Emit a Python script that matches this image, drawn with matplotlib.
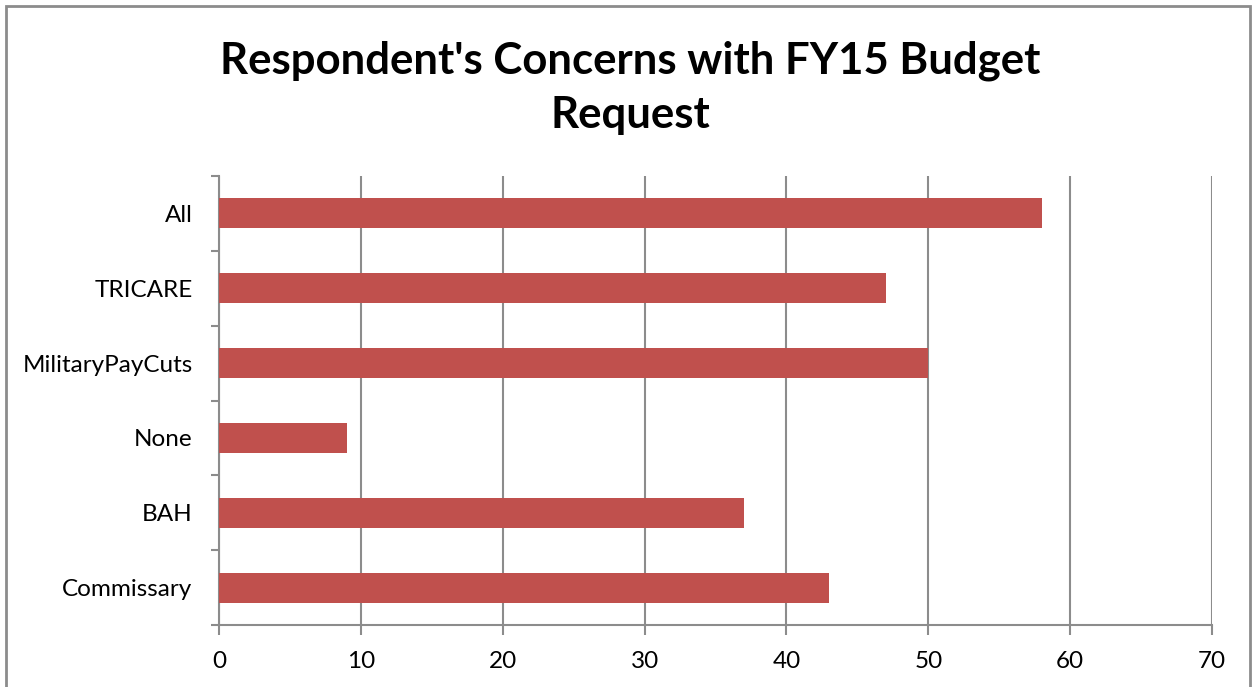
import matplotlib.pyplot as plt
from matplotlib.patches import Rectangle

# survey counts per concern, listed top to bottom
categories = ['All', 'TRICARE', 'MilitaryPayCuts', 'None', 'BAH', 'Commissary']
counts = [58, 47, 50, 9, 37, 43]
x_ticks = [0, 10, 20, 30, 40, 50, 60, 70]

plt.rcParams['font.family'] = ['Lato', 'DejaVu Sans']

fig = plt.figure(figsize=(12.53, 6.87), dpi=100)
ax = fig.add_axes([219 / 1253, 1 - 625 / 687, (1212 - 219) / 1253, (625 - 176) / 687])

# outer chart frame
fig.patches.append(Rectangle((6 / 1253, -0.01), 1244 / 1253, 1 - 6 / 687 + 0.01,
                             transform=fig.transFigure, fill=False,
                             edgecolor='#8c8c8c', linewidth=2))

pos = list(range(len(categories)))[::-1]
ax.barh(pos, counts, height=0.4, color='#C0504D', zorder=3)

ax.set_xlim(0, 70)
ax.set_ylim(-0.5, len(categories) - 0.5)
ax.set_xticks(x_ticks)
ax.set_xticklabels([str(t) for t in x_ticks], fontsize=17.5)
ax.set_yticks(pos)
ax.set_yticklabels(categories, fontsize=17.5)
ax.set_yticks([p - 0.5 for p in range(len(categories) + 1)], minor=True)

ax.grid(axis='x', color='#8c8c8c', linewidth=1.5, zorder=0)
for side in ['top', 'right']:
    ax.spines[side].set_visible(False)
for side in ['left', 'bottom']:
    ax.spines[side].set_color('#8c8c8c')
    ax.spines[side].set_linewidth(1.5)

ax.tick_params(axis='y', which='major', length=0, pad=19)
ax.tick_params(axis='y', which='minor', length=6, color='#8c8c8c', width=1.5)
ax.tick_params(axis='x', length=7, color='#8c8c8c', width=1.5, pad=12)

fig.text(630 / 1253, 1 - 88 / 687, "Respondent's Concerns with FY15 Budget\nRequest",
         ha='center', va='center', fontsize=31.5, fontweight='bold', linespacing=1.42)

fig.savefig('out.png', dpi=100)
